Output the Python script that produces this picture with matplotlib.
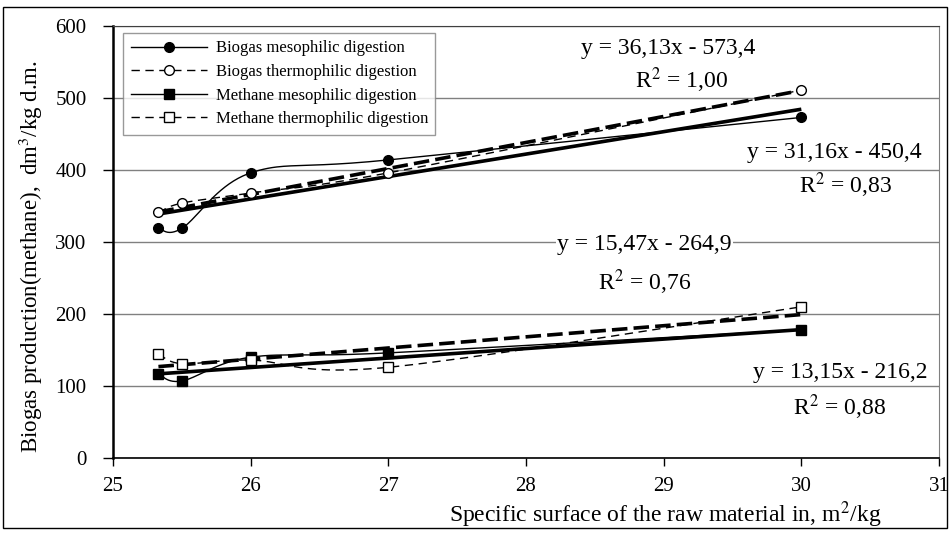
import numpy as np
import matplotlib
matplotlib.use("Agg")
import matplotlib.pyplot as plt
from matplotlib.patches import Rectangle

plt.rcParams["font.family"] = ["Liberation Serif", "DejaVu Serif"]
plt.rcParams["mathtext.fontset"] = "stix"

# data
surface = [25.33, 25.5, 26.0, 27.0, 30.0]
biogas_meso = [319, 319, 396, 414, 473]
biogas_thermo = [341, 354, 368, 396, 511]
methane_meso = [117, 107, 140, 146, 178]
methane_thermo = [145, 131, 136, 126, 210]

# trend line coefficients as printed on the chart
slopes = {"bm": 31.16, "bt": 36.13, "mm": 13.15, "mt": 15.47}
intercepts = {"bm": -450.4, "bt": -573.4, "mm": -216.2, "mt": -264.9}
r2 = {"bm": "0,83", "bt": "1,00", "mm": "0,88", "mt": "0,76"}
eq_text = {"bm": "y = 31,16x - 450,4", "bt": "y = 36,13x - 573,4",
           "mm": "y = 13,15x - 216,2", "mt": "y = 15,47x - 264,9"}

labels = ["Biogas mesophilic digestion", "Biogas thermophilic digestion",
          "Methane mesophilic digestion", "Methane thermophilic digestion"]

W, H = 950, 533
AX_L, AX_R, AX_T, AX_B = 113, 939, 26, 458
PX_X = (AX_R - AX_L) / 6.0
PX_Y = (AX_B - AX_T) / 600.0


def smooth(xs, ys, n=40):
    """Excel-like smoothed line (Catmull-Rom bezier) in pixel space."""
    P = np.column_stack([np.asarray(xs) * PX_X, np.asarray(ys) * PX_Y])
    segs = []
    for i in range(len(P) - 1):
        p0 = P[i - 1] if i > 0 else P[i]
        p1, p2 = P[i], P[i + 1]
        p3 = P[i + 2] if i + 2 < len(P) else P[i + 1]
        c1 = p1 + (p2 - p0) / 6
        c2 = p2 - (p3 - p1) / 6
        t = np.linspace(0, 1, n)[:, None]
        seg = (1 - t) ** 3 * p1 + 3 * (1 - t) ** 2 * t * c1 \
            + 3 * (1 - t) * t ** 2 * c2 + t ** 3 * p2
        segs.append(seg if i == 0 else seg[1:])
    out = np.vstack(segs)
    return out[:, 0] / PX_X, out[:, 1] / PX_Y


fig = plt.figure(figsize=(W / 100, H / 100), dpi=100)
ax = fig.add_axes([AX_L / W, 1 - AX_B / H, (AX_R - AX_L) / W, (AX_B - AX_T) / H])

series = [
    ("bm", biogas_meso, "o", "black", "-"),
    ("bt", biogas_thermo, "o", "white", "--"),
    ("mm", methane_meso, "s", "black", "-"),
    ("mt", methane_thermo, "s", "white", "--"),
]

handles = []
xs = np.array(surface)
for (key, vals, mk, face, ls), lab in zip(series, labels):
    sx, sy = smooth(surface, vals)
    dash = (6, 4) if ls == "--" else None
    line, = ax.plot(sx, sy, color="black", lw=1.0, zorder=3)
    if dash:
        line.set_dashes(dash)
    ax.plot(surface, vals, linestyle="none", marker=mk, markersize=7 if mk == "o" else 6.5,
            markerfacecolor=face, markeredgecolor="black", markeredgewidth=1.0, zorder=5)
    # trend line
    tx = np.array([xs.min(), xs.max()])
    ty = slopes[key] * tx + intercepts[key]
    tl, = ax.plot(tx, ty, color="black", lw=2.6, zorder=4, solid_capstyle="butt")
    if ls == "--":
        tl.set_dashes((4.3, 1.7))
    h, = ax.plot([], [], color="black", lw=1.0, marker=mk,
                 markersize=7 if mk == "o" else 6.5, markerfacecolor=face,
                 markeredgecolor="black", label=lab)
    if dash:
        h.set_dashes(dash)
    handles.append(h)

ax.set_xlim(25, 31)
ax.set_ylim(0, 600)
ax.set_xticks(range(25, 32))
ax.set_yticks(range(0, 601, 100))
ax.grid(axis="y", color="#808080", lw=1.0, zorder=0)
ax.set_axisbelow(True)
ax.tick_params(axis="x", direction="out", length=6, width=1, pad=8, labelsize=15)
ax.tick_params(axis="y", direction="out", length=7, width=1, pad=12, labelsize=15)
ax.spines["left"].set_linewidth(1.8)
ax.spines["bottom"].set_linewidth(1.2)
ax.spines["top"].set_color("#404040")
ax.spines["right"].set_color("#808080")

# trend line equations
ann = [
    ("bt", 29.03, 569, 29.13, 525),
    ("bm", 30.24, 424, 30.32, 379),
    ("mt", 28.86, 296, 28.86, 244),
    ("mm", 30.28, 119, 30.28, 71),
]
for key, ex, ey, rx, ry in ann:
    bbox = dict(facecolor="white", edgecolor="none", pad=1) if key == "mt" else None
    ax.text(ex, ey, eq_text[key], fontsize=17, ha="center", va="center",
            bbox=bbox, zorder=6)
    ax.text(rx, ry, "R$^2$ = " + r2[key], fontsize=17, ha="center",
            va="center", zorder=6)

leg = ax.legend(handles=handles, loc="upper left",
                bbox_to_anchor=((123 - AX_L) / (AX_R - AX_L), 1 - (33 - AX_T) / (AX_B - AX_T)),
                fontsize=12, frameon=True, fancybox=False, edgecolor="#808080",
                handlelength=4.6, handletextpad=0.5, labelspacing=0.45,
                borderpad=0.45, borderaxespad=0, numpoints=1)
leg.get_frame().set_linewidth(1.0)
leg.set_zorder(7)

fig.text(31 / W, 1 - 257 / H, "Biogas production(methane),  dm$^3$/kg d.m.",
         rotation=90, ha="center", va="center", fontsize=16.5)
fig.text(665 / W, 1 - 515 / H, "Specific surface of the raw material in, m$^2$/kg",
         ha="center", va="center", fontsize=17)

fig.patches.append(Rectangle((3 / W, 1 - 528 / H), 944 / W, 521 / H,
                             transform=fig.transFigure, fill=False,
                             edgecolor="black", lw=1.0))

fig.savefig("out.png", dpi=100)
